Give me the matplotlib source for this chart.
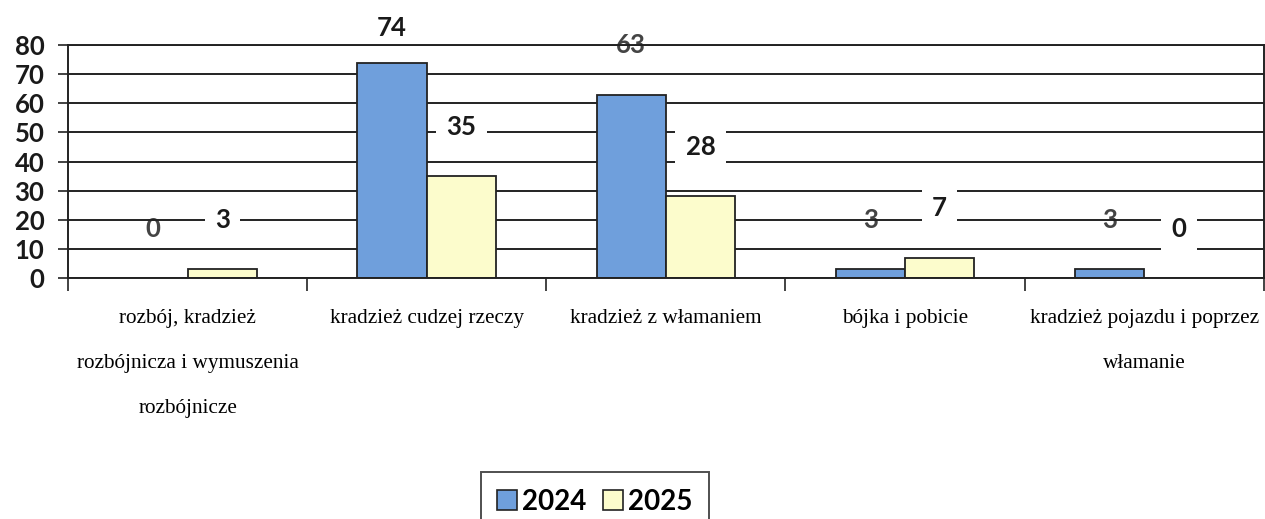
import matplotlib

matplotlib.use("Agg")

import matplotlib.pyplot as plt
import numpy as np
from matplotlib.patches import Patch

categories = [
    "rozbój, kradzież\nrozbójnicza i wymuszenia\nrozbójnicze",
    "kradzież cudzej rzeczy",
    "kradzież z włamaniem",
    "bójka i pobicie",
    "kradzież pojazdu i poprzez\nwłamanie",
]
values_2024 = [0, 74, 63, 3, 3]
values_2025 = [3, 35, 28, 7, 0]
series_labels = ["2024", "2025"]

BLUE = "#6f9fdc"
YELLOW = "#fcfccc"
LINE = "#222222"
NUM_FONT = "Lato"
CAT_FONT = "Liberation Serif"

fig = plt.figure(figsize=(12.65, 5.19), dpi=100)
ax = fig.add_axes([0.0538, 0.4644, 0.9452, 0.4486])

x = np.arange(len(categories))
width = 0.29
ax.bar(x - width / 2, values_2024, width=width, color=BLUE,
       edgecolor=LINE, linewidth=1.3, zorder=2)
ax.bar(x + width / 2, values_2025, width=width, color=YELLOW,
       edgecolor=LINE, linewidth=1.3, zorder=2)

ax.set_xlim(-0.5, len(categories) - 0.5)
ax.set_ylim(0, 80)
ax.set_yticks(range(0, 81, 10))
ax.set_axisbelow(True)
ax.yaxis.grid(True, color=LINE, linewidth=1.4)

# category boundary ticks below the axis
ax.set_xticks(x)
ax.set_xticklabels(categories, family=CAT_FONT, fontsize=15.3, linespacing=2.87)
ax.set_xticks(np.arange(-0.5, len(categories)), minor=True)
ax.tick_params(axis="x", which="major", length=0, pad=22)
ax.tick_params(axis="x", which="minor", length=9, width=1.2, color=LINE, direction="out")
ax.tick_params(axis="y", length=7, width=1.2, color=LINE, pad=10)
for lab in ax.get_yticklabels():
    lab.set_family(NUM_FONT)
    lab.set_fontweight("bold")
    lab.set_fontsize(18.5)
    lab.set_color("#1a1a1a")

for side in ["left", "bottom", "right", "top"]:
    ax.spines[side].set_color(LINE)
    ax.spines[side].set_linewidth(1.4)

# data labels: 2024 behind the grid, 2025 on white boxes
offset = 17
for xi, v in zip(x, values_2024):
    ax.text(xi - width / 2, min(v + offset, 85.8), str(v), ha="center", va="center",
            family=NUM_FONT, fontweight="bold", fontsize=18.5,
            color="#1a1a1a" if v + offset > 80 else "#444444",
            zorder=0.4, clip_on=False)
for xi, v in zip(x, values_2025):
    ax.text(xi + width / 2, min(v + offset, 85.8), str(v), ha="center", va="center",
            family=NUM_FONT, fontweight="bold", fontsize=18.5, color="#1a1a1a",
            zorder=3, clip_on=False,
            bbox=dict(boxstyle="square,pad=0.4", facecolor="white", edgecolor="none"))

handles = [
    Patch(facecolor=BLUE, edgecolor=LINE, linewidth=1.2),
    Patch(facecolor=YELLOW, edgecolor=LINE, linewidth=1.2),
]
leg = fig.legend(handles, series_labels, loc="upper center",
                 bbox_to_anchor=(595 / 1265, 1 - 472 / 519), ncol=2,
                 prop={"family": NUM_FONT, "weight": "bold", "size": 20},
                 handlelength=0.7, handleheight=0.7, handletextpad=0.2,
                 columnspacing=0.6, borderpad=0.6, borderaxespad=0,
                 frameon=True, fancybox=False)
leg.get_frame().set_edgecolor(LINE)
leg.get_frame().set_linewidth(1.4)

fig.savefig("out.png", dpi=100)
